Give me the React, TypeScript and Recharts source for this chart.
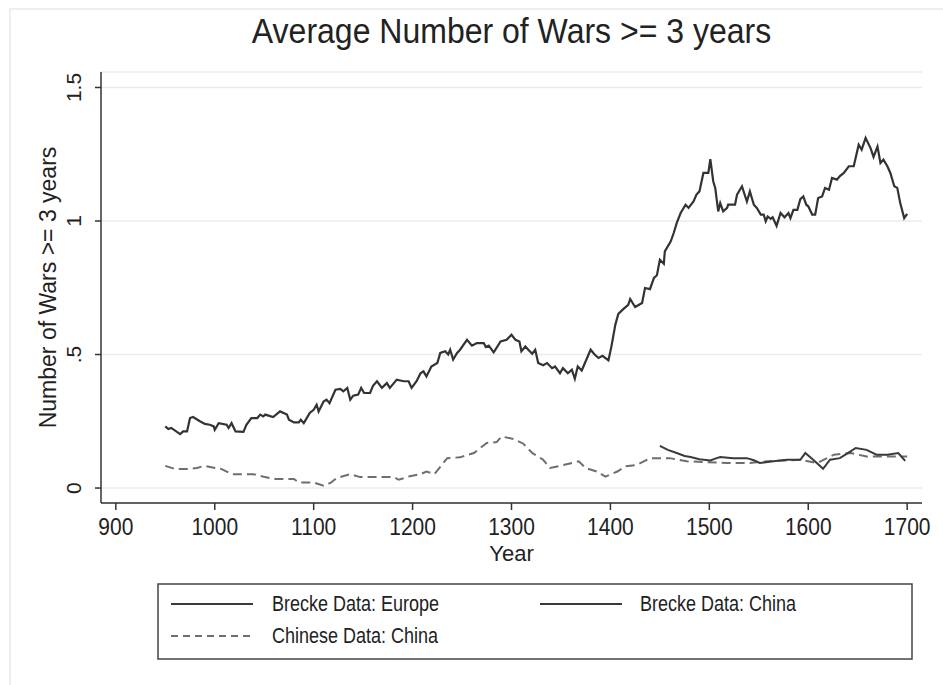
import { LineChart, Line, XAxis, YAxis, CartesianGrid } from 'recharts';

// values: [year, average number of wars >= 3 years]
const brecke_europe: [number, number][] = [
  [950, 0.231], [953, 0.221], [956, 0.225], [965, 0.202], [968, 0.212], [972, 0.212],
  [975, 0.262], [978, 0.266], [985, 0.25], [990, 0.24], [995, 0.237], [999, 0.231],
  [1000, 0.218], [1004, 0.243], [1012, 0.237], [1014, 0.225], [1017, 0.243], [1021, 0.212],
  [1029, 0.21], [1032, 0.237], [1037, 0.262], [1043, 0.262], [1046, 0.275], [1049, 0.268],
  [1051, 0.275], [1059, 0.266], [1066, 0.287], [1073, 0.275], [1075, 0.256], [1080, 0.246],
  [1085, 0.246], [1087, 0.256], [1090, 0.243], [1093, 0.262], [1096, 0.281], [1100, 0.293],
  [1103, 0.312], [1105, 0.287], [1110, 0.324], [1113, 0.331], [1116, 0.318], [1122, 0.368],
  [1127, 0.371], [1130, 0.362], [1134, 0.375], [1137, 0.331], [1140, 0.346], [1145, 0.35],
  [1148, 0.375], [1151, 0.356], [1157, 0.356], [1160, 0.383], [1164, 0.4], [1169, 0.375],
  [1174, 0.393], [1177, 0.375], [1184, 0.406], [1191, 0.4], [1196, 0.4], [1199, 0.375],
  [1204, 0.4], [1208, 0.43], [1211, 0.437], [1214, 0.418], [1219, 0.455], [1225, 0.468],
  [1228, 0.506], [1233, 0.512], [1236, 0.5], [1238, 0.518], [1241, 0.481], [1245, 0.506],
  [1248, 0.518], [1255, 0.555], [1260, 0.533], [1265, 0.543], [1272, 0.543], [1274, 0.528],
  [1277, 0.533], [1282, 0.508], [1289, 0.549], [1295, 0.555], [1300, 0.574], [1304, 0.555],
  [1308, 0.549], [1310, 0.512], [1314, 0.53], [1317, 0.518], [1321, 0.503], [1324, 0.518],
  [1327, 0.468], [1332, 0.46], [1336, 0.468], [1341, 0.449], [1344, 0.455], [1349, 0.43],
  [1352, 0.449], [1357, 0.43], [1361, 0.443], [1364, 0.409], [1367, 0.455], [1371, 0.44],
  [1380, 0.518], [1384, 0.5], [1388, 0.487], [1392, 0.495], [1398, 0.478], [1401, 0.53],
  [1405, 0.612], [1408, 0.652], [1413, 0.67], [1418, 0.686], [1420, 0.708], [1425, 0.678],
  [1432, 0.693], [1435, 0.749], [1440, 0.745], [1444, 0.787], [1447, 0.797], [1450, 0.855],
  [1454, 0.84], [1455, 0.886], [1461, 0.924], [1464, 0.955], [1467, 0.992], [1471, 1.03],
  [1476, 1.061], [1479, 1.049], [1484, 1.073], [1487, 1.099], [1490, 1.111], [1494, 1.18],
  [1499, 1.18], [1501, 1.232], [1504, 1.148], [1506, 1.123], [1509, 1.036], [1511, 1.067],
  [1514, 1.036], [1518, 1.049], [1519, 1.061], [1526, 1.061], [1528, 1.099], [1533, 1.13],
  [1538, 1.073], [1541, 1.111], [1545, 1.061], [1548, 1.049], [1552, 1.024], [1555, 1.024],
  [1557, 0.999], [1559, 1.017], [1562, 1.008], [1564, 1.014], [1568, 0.982], [1572, 1.03],
  [1576, 1.014], [1580, 1.03], [1582, 1.011], [1585, 1.042], [1589, 1.042], [1592, 1.082],
  [1595, 1.092], [1598, 1.061], [1600, 1.055], [1604, 1.024], [1607, 1.024], [1610, 1.086],
  [1614, 1.092], [1617, 1.124], [1621, 1.117], [1624, 1.161], [1629, 1.155], [1632, 1.168],
  [1636, 1.18], [1641, 1.205], [1646, 1.205], [1651, 1.286], [1654, 1.267], [1658, 1.311],
  [1663, 1.273], [1666, 1.24], [1670, 1.279], [1673, 1.217], [1676, 1.23], [1680, 1.205],
  [1683, 1.18], [1687, 1.13], [1690, 1.124], [1693, 1.067], [1697, 1.011], [1700, 1.027],
];

const brecke_china: [number, number][] = [
  [1450, 0.158], [1458, 0.143], [1467, 0.131], [1475, 0.12], [1481, 0.116], [1490, 0.108],
  [1501, 0.103], [1506, 0.11], [1511, 0.116], [1524, 0.112], [1538, 0.112], [1545, 0.104],
  [1551, 0.094], [1565, 0.1], [1578, 0.106], [1592, 0.106], [1597, 0.131], [1605, 0.106],
  [1615, 0.072], [1622, 0.106], [1632, 0.112], [1640, 0.131], [1648, 0.15], [1659, 0.143],
  [1669, 0.125], [1680, 0.125], [1691, 0.131], [1698, 0.102],
];

const chinese_china: [number, number][] = [
  [950, 0.083], [960, 0.071], [972, 0.071], [982, 0.075], [989, 0.083], [1007, 0.071],
  [1017, 0.052], [1039, 0.052], [1051, 0.041], [1061, 0.034], [1080, 0.034], [1085, 0.021],
  [1100, 0.021], [1110, 0.009], [1117, 0.019], [1123, 0.037], [1137, 0.052], [1147, 0.041],
  [1181, 0.041], [1186, 0.031], [1196, 0.043], [1208, 0.052], [1214, 0.062], [1222, 0.052],
  [1235, 0.112], [1248, 0.115], [1262, 0.131], [1275, 0.169], [1285, 0.172], [1290, 0.193],
  [1302, 0.184], [1312, 0.166], [1321, 0.131], [1332, 0.106], [1339, 0.075], [1349, 0.083],
  [1358, 0.091], [1368, 0.1], [1375, 0.075], [1386, 0.062], [1395, 0.043], [1407, 0.062],
  [1415, 0.081], [1427, 0.087], [1440, 0.112], [1460, 0.112], [1477, 0.1], [1518, 0.094],
  [1541, 0.094], [1558, 0.1], [1592, 0.106], [1609, 0.094], [1626, 0.125], [1643, 0.131],
  [1659, 0.118], [1676, 0.118], [1700, 0.118],
];

const x_ticks = [900, 1000, 1100, 1200, 1300, 1400, 1500, 1600, 1700];
const y_ticks = [0, 0.5, 1, 1.5];
const y_tick_labels = ['0', '.5', '1', '1.5'];
const series_names = ['Brecke Data: Europe', 'Brecke Data: China', 'Chinese Data: China'];

const toRows = (pts: [number, number][]) => pts.map(([year, v]) => ({ year, v }));

const FONT = '"Liberation Sans", Arial, Helvetica, sans-serif';
const INK = '#222';

// stata's text comes out a bit taller than arial, so stretch horizontal text vertically
function XTick({ x, y, payload }: any) {
  return (
    <g transform={`translate(${x},${y}) scale(1,1.15)`}>
      <text x={0} y={0} dy="0.71em" textAnchor="middle" fontSize={21} fill={INK}>{payload.value}</text>
    </g>
  );
}

function YTick({ x, y, payload }: any) {
  const i = y_ticks.indexOf(payload.value);
  const tx = x - 12;
  return (
    <text x={tx} y={y} transform={`rotate(-90 ${tx} ${y})`} textAnchor="middle" fontSize={21} fill={INK}>
      {i >= 0 ? y_tick_labels[i] : payload.value}
    </text>
  );
}

function ChartLegend() {
  const sample = (x: number, y: number, dashed: boolean) => (
    <line x1={x} x2={x + 82} y1={y} y2={y}
      stroke={dashed ? '#6e6e6e' : '#3a3a3a'} strokeWidth={2}
      strokeDasharray={dashed ? '7 5' : undefined} />
  );
  const label = (x: number, y: number, s: string) => (
    <g transform={`translate(${x},${y}) scale(1,1.2)`}>
      <text x={0} y={0} fontSize={18} fill={INK}>{s}</text>
    </g>
  );
  return (
    <svg width={756} height={77} style={{ position: 'absolute', left: 157, top: 583 }}>
      <rect x={1} y={1} width={754} height={75} fill="#fff" stroke="#444" strokeWidth={1.5} />
      {sample(14, 21, false)}
      {label(115, 28, series_names[0])}
      {sample(383, 21, false)}
      {label(483, 28, series_names[1])}
      {sample(14, 53, true)}
      {label(115, 60, series_names[2])}
    </svg>
  );
}

export default function App() {
  return (
    <div style={{ position: 'absolute', left: 0, top: 0, width: 943, height: 685, background: '#fff', fontFamily: FONT, overflow: 'hidden' }}>
      <div style={{ position: 'absolute', left: 9, top: 8, width: 940, height: 680, borderLeft: '2px solid #efefef', borderTop: '2px solid #efefef' }} />
      <div style={{ position: 'absolute', left: 101, top: 16, width: 821, textAlign: 'center', fontSize: 32, lineHeight: '32px', color: INK, transform: 'scaleY(1.07)', transformOrigin: '50% 85%' }}>
        Average Number of Wars &gt;= 3 years
      </div>
      <LineChart width={943} height={685} margin={{ top: 72, right: 21, bottom: 122, left: 0 }}
        style={{ position: 'absolute', left: 0, top: 0 }}>
        <CartesianGrid vertical={false} stroke="#ebebeb" strokeWidth={1.5} />
        <XAxis type="number" dataKey="year" domain={[885, 1715]} ticks={x_ticks} allowDataOverflow
          height={60} tickSize={7} tickMargin={8} interval={0}
          axisLine={{ stroke: '#333', strokeWidth: 1.5 }} tickLine={{ stroke: '#333', strokeWidth: 1.5 }}
          tick={<XTick />}
          label={{
            content: ({ viewBox }: any) => (
              <text x={viewBox.x + viewBox.width / 2} y={viewBox.y + 58} textAnchor="middle" fontSize={22} fill={INK}>Year</text>
            ),
          }} />
        <YAxis type="number" domain={[-0.056, 1.558]} ticks={y_ticks} allowDataOverflow width={101}
          tickSize={6} tickMargin={2} interval={0}
          axisLine={{ stroke: '#333', strokeWidth: 1.5 }} tickLine={{ stroke: '#333', strokeWidth: 1.5 }}
          tick={<YTick />}
          label={{
            content: ({ viewBox }: any) => {
              const lx = 56;
              const ly = viewBox.y + viewBox.height / 2;
              return (
                <text x={lx} y={ly} transform={`rotate(-90 ${lx} ${ly})`} textAnchor="middle" fontSize={23} fill={INK}>
                  Number of Wars &gt;= 3 years
                </text>
              );
            },
          }} />
        <Line data={toRows(chinese_china)} dataKey="v" name={series_names[2]} type="linear"
          stroke="#6e6e6e" strokeWidth={2} strokeDasharray="9 5" dot={false} activeDot={false} isAnimationActive={false} />
        <Line data={toRows(brecke_china)} dataKey="v" name={series_names[1]} type="linear"
          stroke="#3a3a3a" strokeWidth={2} dot={false} activeDot={false} isAnimationActive={false} />
        <Line data={toRows(brecke_europe)} dataKey="v" name={series_names[0]} type="linear"
          stroke="#333" strokeWidth={2.2} dot={false} activeDot={false} isAnimationActive={false} />
      </LineChart>
      <ChartLegend />
    </div>
  );
}
